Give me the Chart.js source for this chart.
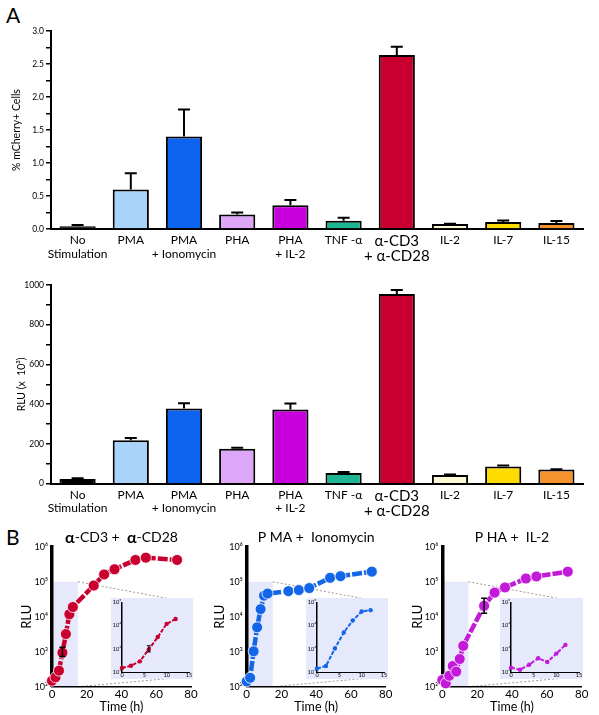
<!DOCTYPE html>
<html>
<head>
<meta charset="utf-8">
<script src="https://cdn.jsdelivr.net/npm/chart.js@4.4.1/dist/chart.umd.min.js"></script>
<style>
  body { margin: 0; background: #fff; }
  #wrap { position: relative; width: 599px; height: 715px; overflow: hidden; font-family: Lato, "Open Sans", sans-serif; }
  canvas { position: absolute; }
  .tag { position: absolute; font-size: 21px; line-height: 1; }
  .inset { background: #e6e8fb; }
</style>
</head>
<body>
<div id="wrap">
  <div class="tag" style="left:6px;top:4px">A</div>
  <div class="tag" style="left:6px;top:526px">B</div>
  <canvas id="barPct" width="599" height="250" style="left:0;top:20px"></canvas>
  <canvas id="barRlu" width="599" height="255" style="left:0;top:270px"></canvas>
  <canvas id="tc0" width="200" height="195" style="left:0;top:520px"></canvas>
  <canvas id="tc1" width="195" height="195" style="left:200px;top:520px"></canvas>
  <canvas id="tc2" width="199" height="195" style="left:400px;top:520px"></canvas>
  <canvas id="in0" class="inset" width="82" height="81" style="left:111px;top:598px"></canvas>
  <canvas id="in1" class="inset" width="82" height="81" style="left:306px;top:598px"></canvas>
  <canvas id="in2" class="inset" width="83" height="81" style="left:500px;top:598px"></canvas>
</div>
<script>
// panel A: stimulation conditions
const categories = [["No", "Stimulation"], "PMA", ["PMA", "+ Ionomycin"], "PHA", ["PHA", "+ IL-2"],
  "TNF -α", ["α-CD3", "+ α-CD28"], "IL-2", "IL-7", "IL-15"];
const barColors = ["#000000", "#a9d3fb", "#0b63ee", "#dea6f8", "#c800dc",
  "#1db592", "#c9002f", "#fdf9d4", "#ffdc00", "#f5922b"];
const pctMean = [0.04, 0.60, 1.40, 0.22, 0.36, 0.125, 2.635, 0.075, 0.105, 0.09];
const pctSem = [0.02, 0.245, 0.41, 0.03, 0.08, 0.045, 0.125, 0.005, 0.025, 0.03];
const rluMean = [24, 219, 378, 176, 373, 54, 955, 44, 86, 71];
const rluSem = [3, 11, 27, 5, 30, 5, 20, 2, 6, 2];

// panel B: time courses (RLU)
const hours = [0, 2, 4, 6, 8, 10, 12, 24, 30, 36, 48, 54, 72];
const cd3Rlu = [148, 186, 288, 940, 3200, 11800, 19000, 78000, 162000, 228000, 420000, 490000, 420000];
const pmaIonoRlu = [142, 180, 1030, 5000, 16500, 40000, 46000, 54000, 58000, 66000, 130000, 145000, 195000];
const phaIl2Rlu = [155, 125, 206, 390, 270, 620, 1470, 20500, 49000, 69000, 124000, 142000, 195000];
const cd3Err = [null, null, null, [730, 1350], null, null, null, null, null, null, null, null, null];
const pmaIonoErr = [null, null, null, null, null, null, null, null, null, null, null, null, null];
const phaIl2Err = [null, null, null, null, null, null, null, [12600, 34000], null, null, null, null, null];
const cd3Title = [["α", true], ["-CD3 +  ", false], ["α", true], ["-CD28", false]];
const pmaIonoTitle = [["P MA +  Ionomycin", false]];
const phaIl2Title = [["P HA +  IL-2", false]];
const logTicks = [1e2, 1e3, 1e4, 1e5, 1e6];
const insetLogTicks = [1e2, 1e3, 1e4, 1e5];
const insetPoints = 7;        // 0..12 h shown in the zoom
const zoomHours = [0, 15];
const zoomRlu = [1e2, 1e5];

const FONT = "Lato, 'Open Sans', sans-serif";
Chart.defaults.font.family = FONT;
Chart.defaults.color = "#000";
Chart.defaults.animation = false;
Chart.defaults.plugins.legend.display = false;
Chart.defaults.plugins.tooltip.enabled = false;

const sup = { 2: "²", 3: "³", 4: "⁴", 5: "⁵", 6: "⁶" };
const pow10 = (v) => "10" + sup[Math.round(Math.log10(v))];

const barErrors = {
  id: "barErrors",
  afterDatasetsDraw(chart, args, opts) {
    const meta = chart.getDatasetMeta(0);
    const vals = chart.data.datasets[0].data;
    const y = chart.scales.y;
    const ctx = chart.ctx;
    ctx.save();
    ctx.strokeStyle = "#000";
    ctx.lineWidth = 2;
    meta.data.forEach((bar, i) => {
      const top = y.getPixelForValue(vals[i] + opts.sem[i]);
      ctx.beginPath();
      ctx.moveTo(bar.x, bar.y);
      ctx.lineTo(bar.x, top);
      ctx.moveTo(bar.x - 6, top);
      ctx.lineTo(bar.x + 6, top);
      ctx.stroke();
    });
    ctx.restore();
  }
};

function barChart(id, values, sem, yMax, step, labelEvery, digits, yTitle, titlePad, padTop, xHeight) {
  return new Chart(document.getElementById(id), {
    type: "bar",
    data: {
      labels: categories,
      datasets: [{
        data: values,
        backgroundColor: barColors,
        borderColor: "#000",
        borderWidth: 2,
        categoryPercentage: 1,
        barPercentage: 0.68
      }]
    },
    options: {
      responsive: false,
      devicePixelRatio: 1,
      layout: { padding: { top: padTop, right: 16, left: 0, bottom: 0 } },
      plugins: { barErrors: { sem: sem } },
      scales: {
        x: {
          grid: { display: false, drawTicks: false },
          border: { display: true, color: "#000", width: 2 },
          afterFit: (s) => { s.height = xHeight; },
          ticks: {
            autoSkip: false,
            maxRotation: 0,
            padding: 5,
            color: "#000",
            font: (c) => c.index === 6 ? { size: 15, lineHeight: 1.0 } : { size: 12, lineHeight: 1.1 }
          }
        },
        y: {
          min: 0,
          max: yMax,
          afterFit: (s) => { s.width = 51; },
          border: { display: true, color: "#000", width: 2 },
          grid: { drawOnChartArea: false, drawTicks: true, tickLength: 5, color: "#000", lineWidth: 1.5 },
          ticks: {
            stepSize: step,
            padding: 2,
            font: { size: 8.5 },
            callback: (v) => {
              const r = v / (step * labelEvery);
              return Math.abs(r - Math.round(r)) < 1e-6 ? v.toFixed(digits) : "";
            }
          },
          title: { display: true, text: yTitle, font: { size: 10.5 }, padding: { top: titlePad, bottom: 0 } }
        }
      }
    },
    plugins: [barErrors]
  });
}

barChart("barPct", pctMean, pctSem, 3, 0.25, 2, 1, "% mCherry+ Cells", 10.5, 11, 41);
barChart("barRlu", rluMean, rluSem, 1000, 100, 2, 0, "RLU (x  10³)", 15.5, 15, 41.3);

// shaded zoom window and the dotted guides toward the inset
const zoomGuide = {
  id: "zoomGuide",
  beforeDraw(chart, args, opts) {
    const { ctx, scales: { x, y } } = chart;
    const x0 = x.getPixelForValue(zoomHours[0]);
    const x1 = x.getPixelForValue(zoomHours[1]);
    const yTop = y.getPixelForValue(zoomRlu[1]);
    const yBot = y.getPixelForValue(zoomRlu[0]);
    ctx.save();
    ctx.fillStyle = "#e6e8fb";
    ctx.fillRect(x0, yTop, x1 - x0, yBot - yTop);
    ctx.strokeStyle = "#9a9a9a";
    ctx.lineWidth = 1;
    ctx.setLineDash([2, 2]);
    ctx.beginPath();
    ctx.moveTo(x1, yTop);
    ctx.lineTo(x.getPixelForValue(80), y.getPixelForValue(opts.top));
    ctx.moveTo(x1, yBot);
    ctx.lineTo(x.getPixelForValue(80), y.getPixelForValue(opts.bottom));
    ctx.stroke();
    ctx.restore();
  }
};

// panel title with the bold alpha glyphs, centred over the plot area
const panelTitle = {
  id: "panelTitle",
  afterDraw(chart, args, opts) {
    const { ctx, chartArea } = chart;
    ctx.save();
    ctx.textBaseline = "middle";
    ctx.fillStyle = "#000";
    const fontOf = (bold) => (bold ? "bold 16px " : "14px ") + FONT;
    let total = 0;
    opts.parts.forEach(([t, b]) => { ctx.font = fontOf(b); total += ctx.measureText(t).width; });
    let x = (chartArea.left + chartArea.right) / 2 - total / 2;
    const y = chartArea.top - 9;
    opts.parts.forEach(([t, b]) => {
      ctx.font = fontOf(b);
      ctx.fillText(t, x, y);
      x += ctx.measureText(t).width;
    });
    ctx.restore();
  }
};

const pointErrors = {
  id: "pointErrors",
  afterDatasetsDraw(chart, args, opts) {
    const meta = chart.getDatasetMeta(0);
    const y = chart.scales.y;
    const ctx = chart.ctx;
    ctx.save();
    ctx.strokeStyle = "#000";
    ctx.lineWidth = opts.w;
    opts.err.forEach((e, i) => {
      if (!e || !meta.data[i]) return;
      const px = meta.data[i].x;
      const lo = y.getPixelForValue(e[0]);
      const hi = y.getPixelForValue(e[1]);
      ctx.beginPath();
      ctx.moveTo(px, lo); ctx.lineTo(px, hi);
      ctx.moveTo(px - opts.cap, lo); ctx.lineTo(px + opts.cap, lo);
      ctx.moveTo(px - opts.cap, hi); ctx.lineTo(px + opts.cap, hi);
      ctx.stroke();
    });
    ctx.restore();
  }
};

function timeChart(id, series, err, color, title, yWidth, titlePad, padRight) {
  return new Chart(document.getElementById(id), {
    type: "line",
    data: {
      datasets: [{
        data: hours.map((h, i) => ({ x: h, y: series[i] })),
        borderColor: color,
        backgroundColor: color,
        borderWidth: 4.5,
        borderDash: [10, 2],
        pointRadius: 5.5,
        pointBorderColor: "rgba(255,255,255,0.8)",
        pointBorderWidth: 1,
        clip: false
      }]
    },
    options: {
      responsive: false,
      devicePixelRatio: 1,
      layout: { padding: { top: 26.8, right: padRight, left: 0, bottom: 0 } },
      plugins: {
        panelTitle: { parts: title },
        zoomGuide: { top: Math.pow(10, 4.4), bottom: Math.pow(10, 2.29) },
        pointErrors: { err: err, w: 1.5, cap: 3 }
      },
      scales: {
        x: {
          type: "linear",
          min: 0,
          max: 80,
          afterFit: (s) => { s.height = 28.3; },
          border: { display: true, color: "#000", width: 1.5 },
          grid: { display: false, drawTicks: false },
          ticks: { stepSize: 20, padding: 1, font: { size: 11.5 } },
          title: { display: true, text: "Time (h)", font: { size: 12.5 }, padding: { top: 0, bottom: 1 } }
        },
        y: {
          type: "logarithmic",
          min: 1e2,
          max: 1e6,
          afterFit: (s) => { s.width = yWidth; },
          afterBuildTicks: (s) => { s.ticks = logTicks.map((v) => ({ value: v })); },
          border: { display: true, color: "#000", width: 3.5 },
          grid: { display: false, drawTicks: false },
          ticks: { padding: 4, font: { size: 9 }, callback: pow10 },
          title: { display: true, text: "RLU", font: { size: 13 }, padding: { top: titlePad, bottom: 0 } }
        }
      }
    },
    plugins: [zoomGuide, pointErrors, panelTitle]
  });
}

function insetChart(id, series, err, color) {
  return new Chart(document.getElementById(id), {
    type: "line",
    data: {
      datasets: [{
        data: hours.slice(0, insetPoints).map((h, i) => ({ x: h, y: series[i] })),
        borderColor: color,
        backgroundColor: color,
        borderWidth: 2,
        borderDash: [4, 1.5],
        pointRadius: 2.2,
        pointBorderWidth: 0,
        clip: false
      }]
    },
    options: {
      responsive: false,
      devicePixelRatio: 1,
      layout: { padding: { top: 4, right: 2, left: 0, bottom: 0 } },
      plugins: { pointErrors: { err: err.slice(0, insetPoints), w: 1, cap: 2 } },
      scales: {
        x: {
          type: "linear",
          min: zoomHours[0],
          max: zoomHours[1],
          afterFit: (s) => { s.height = 7; },
          border: { display: true, color: "#000", width: 1 },
          grid: { display: false, drawTicks: false },
          ticks: { stepSize: 5, padding: 0, font: { size: 5.5 } }
        },
        y: {
          type: "logarithmic",
          min: zoomRlu[0],
          max: zoomRlu[1],
          afterFit: (s) => { s.width = 11; },
          afterBuildTicks: (s) => { s.ticks = insetLogTicks.map((v) => ({ value: v })); },
          border: { display: true, color: "#000", width: 1.5 },
          grid: { display: false, drawTicks: false },
          ticks: { padding: 1, font: { size: 5.5 }, callback: pow10 }
        }
      }
    },
    plugins: [pointErrors]
  });
}

timeChart("tc0", cd3Rlu, cd3Err, "#c9002f", cd3Title, 52, 19, 9);
timeChart("tc1", pmaIonoRlu, pmaIonoErr, "#1466e8", pmaIonoTitle, 46.7, 12, 9.3);
timeChart("tc2", phaIl2Rlu, phaIl2Err, "#c21ad8", phaIl2Title, 42.3, 10, 17.3);
insetChart("in0", cd3Rlu, cd3Err, "#c9002f");
insetChart("in1", pmaIonoRlu, pmaIonoErr, "#1466e8");
insetChart("in2", phaIl2Rlu, phaIl2Err, "#c21ad8");
</script>
</body>
</html>
